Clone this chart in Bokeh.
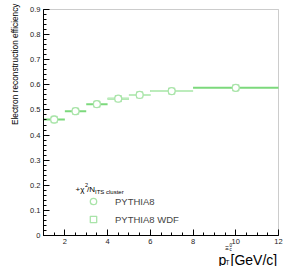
import math
from bokeh.plotting import figure
from bokeh.models import (ColumnDataSource, FixedTicker, Label, Legend, LegendItem,
                          Range1d, CDSView, IndexFilter, BoxAnnotation)
from bokeh.embed import file_html
from bokeh.resources import INLINE

# ---- data ----
bin_lo = [1, 2, 3, 4, 5, 6, 8]
bin_hi = [2, 3, 4, 5, 6, 8, 12]
pt_center = [1.5, 2.5, 3.5, 4.5, 5.5, 7, 10]
eff_pythia8 = [0.462, 0.495, 0.523, 0.545, 0.560, 0.575, 0.588]
eff_pythia8_wdf = [0.462, 0.495, 0.523, 0.545, 0.560, 0.575, 0.588]
x_ticks = [2, 4, 6, 8, 10, 12]
y_ticks = [0, 0.1, 0.2, 0.3, 0.4, 0.5, 0.6, 0.7, 0.8, 0.9]
x_min, x_max = 1, 12
y_min, y_max = 0, 0.9

FONT = "Liberation Sans"
MARKER = "#a9e4a9"
LIGHT = "#bcecbc"
DARK = "#7cd97c"

W, H = 284, 266
# frame of the ROOT pad (pixels)
FL, FR, FT, FB = 43, 278, 9, 235
sx = (FR - FL) / (x_max - x_min)
sy = (FB - FT) / (y_max - y_min)
xr = Range1d(x_min - FL / sx, x_max + (W - FR) / sx)
yr = Range1d(y_min - (H - FB) / sy, y_max + FT / sy)

src_p = ColumnDataSource(dict(lo=bin_lo, hi=bin_hi, x=pt_center, y=eff_pythia8))
src_w = ColumnDataSource(dict(lo=bin_lo, hi=bin_hi, x=pt_center, y=eff_pythia8_wdf))

p = figure(width=W, height=H, output_backend="svg", toolbar_location=None,
           x_range=xr, y_range=yr,
           min_border_left=0, min_border_right=0, min_border_top=0, min_border_bottom=0)
p.background_fill_color = "white"
p.border_fill_color = "white"
p.outline_line_color = None
p.grid.visible = False

p.add_layout(BoxAnnotation(left=x_min, right=x_max, bottom=y_min, top=y_max,
                           fill_alpha=0, line_color="#555555", line_width=1, level="underlay"))

# error bars (bin widths)
p.segment(x0="lo", x1="hi", y0="y", y1="y", source=src_w, line_color=DARK, line_width=2)
p.segment(x0="lo", x1="hi", y0="y", y1="y", source=src_p, line_color=LIGHT, line_width=2,
          view=CDSView(filter=IndexFilter([3, 4, 5])))

r_w = p.scatter(x="x", y="y", source=src_w, marker="square", size=6,
                line_color=MARKER, line_width=1.3, fill_color="white")
r_p = p.scatter(x="x", y="y", source=src_p, marker="circle", size=7,
                line_color=MARKER, line_width=1.3, fill_color="white")

# axes, pinned to the pad frame
xa = p.xaxis[0]
xa.ticker = FixedTicker(ticks=x_ticks, minor_ticks=[1 + 0.5 * i for i in range(23)])
xa.fixed_location = y_min
xa.bounds = (x_min, x_max)
ya = p.yaxis[0]
ya.ticker = FixedTicker(ticks=y_ticks, minor_ticks=[0.02 * i for i in range(46)])
ya.fixed_location = x_min
ya.bounds = (y_min, y_max)
ya.major_label_overrides = {0: "0"}
for ax in (xa, ya):
    ax.major_tick_in = 6
    ax.major_tick_out = 0
    ax.minor_tick_in = 3
    ax.minor_tick_out = 0
    ax.axis_line_color = "black"
    ax.major_tick_line_color = "black"
    ax.minor_tick_line_color = "black"
    ax.major_label_text_font = FONT
    ax.major_label_text_font_size = "7.5px"
    ax.major_label_text_color = "#222222"
    ax.major_label_standoff = 3


def lab(x, y_top, t, size, **kw):
    """x, y_top: pixel position measured from the top-left corner."""
    opts = dict(text_font=FONT, text_font_size=size, text_color="black",
                text_baseline="alphabetic", text_align="left")
    opts.update(kw)
    p.add_layout(Label(x=x, y=H - y_top, x_units="screen", y_units="screen", text=t, **opts))


# y label
lab(14, 3, "Electron reconstruction efficiency", "8.3px",
    angle=math.pi / 2, text_align="right", text_baseline="middle")

# x label  p_T^{Xi_c^0} [GeV/c]
lab(218, 259, "p", "14px")
lab(225, 262, "T", "6.5px")
lab(224.5, 247, "Ξ", "6px")
lab(229, 244.5, "0", "4.5px")
lab(229, 249, "c", "4.5px")
lab(230, 259, "[GeV/c]", "14px")

# legend header  +chi^2/N_ITS cluster
lab(75, 189, "+χ", "8px")
lab(84.5, 184.5, "2", "5.5px")
lab(86.5, 189, "/N", "8px")
lab(94.5, 191, "ITS cluster", "6px")

legend = Legend(items=[LegendItem(label="PYTHIA8", renderers=[r_p]),
                       LegendItem(label="PYTHIA8 WDF", renderers=[r_w])],
                location=(83, 39), margin=0, padding=5, spacing=2,
                glyph_width=20, glyph_height=16, label_height=16, label_standoff=12,
                label_text_font=FONT, label_text_font_size="9.5px",
                border_line_color=None, background_fill_alpha=0)
p.add_layout(legend)

open("out.html", "w").write(file_html(p, INLINE))
